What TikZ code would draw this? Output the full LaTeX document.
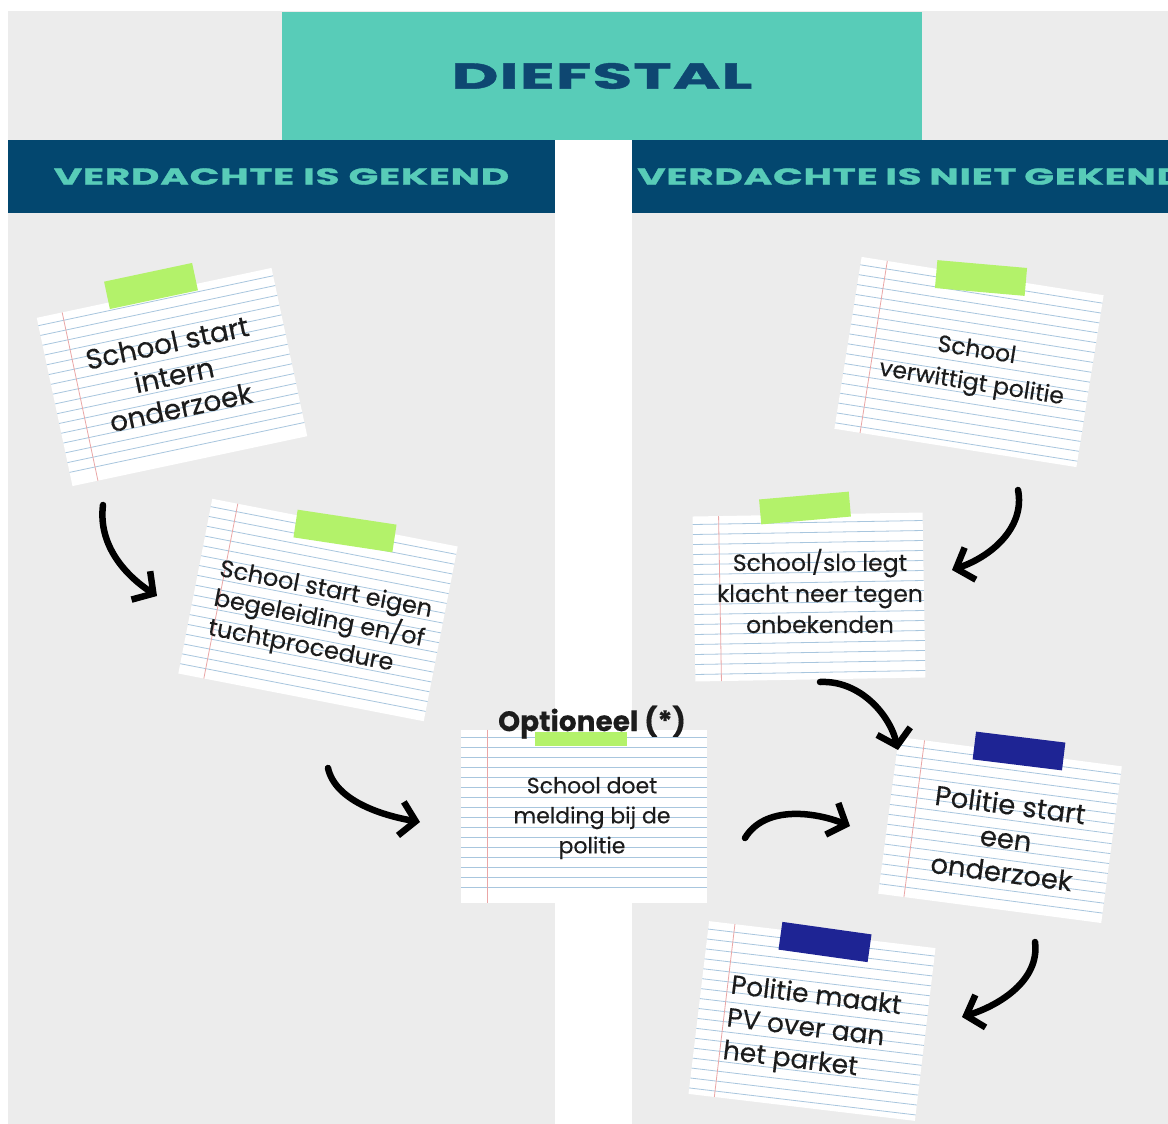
\documentclass[tikz,border=0pt]{standalone}
\usepackage{fontspec}
\setmainfont{Poppins}[FakeBold=0.3]
\newfontfamily\titlefont{Poppins}[FakeStretch=1.8, LetterSpace=3,
    BoldFeatures={FakeBold=1.2}]
\newfontfamily\headfont{Poppins}[FakeStretch=1.7, LetterSpace=3,
    BoldFeatures={FakeBold=1.2}]
\usetikzlibrary{arrows.meta}

\definecolor{panelgrey}{HTML}{ECECEC}
\definecolor{titleteal}{HTML}{58CCB8}
\definecolor{headblue}{HTML}{03476F}
\definecolor{titleblue}{HTML}{0E4771}
\definecolor{tapelime}{HTML}{B3F26A}
\definecolor{tapeblue}{HTML}{1E2494}
\definecolor{ruleblue}{HTML}{A8C6DE}
\definecolor{marginred}{HTML}{EAA6A6}
\definecolor{ink}{HTML}{1C1C1C}

\begin{document}
\begin{tikzpicture}[x=1pt, y=-1pt]
    \tikzset{
        titlebox/.style={fill=titleteal, text=titleblue,
            minimum width=640pt, minimum height=128pt,
            font=\titlefont\bfseries\fontsize{36}{38}\selectfont},
        header/.style={fill=headblue, text=titleteal, minimum height=73pt,
            inner xsep=0pt, font=\headfont\bfseries\fontsize{23}{25}\selectfont},
        paper/.style={fill=white, draw=none, transform shape},
        rule/.style={draw=ruleblue, line width=0.8pt},
        margin/.style={draw=marginred, line width=0.8pt},
        tape/.style={minimum width=90pt, minimum height=28pt, inner sep=0pt},
        notetext/.style={text=ink, align=center, inner sep=0pt},
        brush/.style={draw=black, line width=6.5pt, line cap=round,
            -{Straight Barb[length=15pt, width=34pt]}}
    }
    \useasboundingbox (0,0) rectangle (1168,1124);
    \clip (0,0) rectangle (1168,1124);
    % panels
    \fill[panelgrey] (8,11) rectangle (1168,140);
    \fill[panelgrey] (8,213) rectangle (555,1124);
    \fill[panelgrey] (632,213) rectangle (1168,1124);
    % title and headers
    \node[titlebox] (title) at (602,76) {DIEFSTAL};
    \node[header, minimum width=547pt] (hleft) at (281.5,176.5)
        {VERDACHTE IS GEKEND};
    \node[header, anchor=west, text width=700pt, align=left, inner xsep=5pt]
        (hright) at (632,176.5) {VERDACHTE IS NIET GEKEND};
    % lined notes
    \foreach \nm/\cx/\cy/\ang/\w/\h in {
        p1/172/377/12/240/172, p2/318/610/-11/250/178,
        p3/584/816/0/246/173, p4/969/362/-9/245/174,
        p5/809/597/1/230/165, p6/1000/830/-7.5/225/158,
        p7/812/1021/-6.8/228/174} {
        \begin{scope}[shift={(\cx,\cy)}, rotate=\ang]
            \node[paper, minimum width=\w pt, minimum height=\h pt]
                (\nm) at (0,0) {};
            \pgfmathtruncatemacro\nl{(\h-14)/10}
            \foreach \k in {0,...,\nl}
                \draw[rule] (-\w/2,-\h/2+8+\k*10) -- (\w/2,-\h/2+8+\k*10);
            \draw[margin] (-\w/2+26,-\h/2) -- (-\w/2+26,\h/2);
        \end{scope}
    }
    % tapes
    \node[tape, fill=tapelime, rotate=12] (tp1) at (151,286) {};
    \node[tape, fill=tapelime, rotate=-8.6, minimum width=100pt] (tp2) at (345,531) {};
    \node[tape, fill=tapelime, minimum width=92pt, minimum height=14pt] (tp3) at (581,739) {};
    \node[tape, fill=tapelime, rotate=-5] (tp4) at (981,278) {};
    \node[tape, fill=tapelime, rotate=5, minimum height=25pt] (tp5) at (805,508) {};
    \node[tape, fill=tapeblue, rotate=-7] (tp6) at (1019,751) {};
    \node[tape, fill=tapeblue, rotate=-8] (tp7) at (825,942) {};
    % texts
    \node[notetext, rotate=12, font=\fontsize{28}{33}\selectfont]
        (t1) at (174,375) {School start\\intern\\onderzoek};
    \node[notetext, rotate=-11, align=left, font=\fontsize{24}{30}\selectfont]
        (t2) at (320,620) {School start eigen\\begeleiding en/of\\tuchtprocedure};
    \node[text=ink, font=\bfseries\fontsize{28}{30}\selectfont, inner sep=0pt]
        (opt) at (592,722) {Optioneel (*)};
    \node[notetext, font=\fontsize{22}{30}\selectfont]
        (t3) at (592,818) {School doet\\melding bij de\\politie};
    \node[notetext, rotate=-9, font=\fontsize{23.5}{33}\selectfont]
        (t4) at (974,368) {School\\verwittigt politie};
    \node[notetext, font=\fontsize{23.5}{31}\selectfont]
        (t5) at (820,591) {School/slo legt\\klacht neer tegen\\onbekenden};
    \node[notetext, rotate=-7.5, font=\fontsize{27.5}{34}\selectfont]
        (t6) at (1006,838) {Politie start\\een\\onderzoek};
    \node[notetext, rotate=-7, align=left, font=\fontsize{26.5}{33}\selectfont]
        (t7) at (812,1030) {Politie maakt\\PV over aan\\het parket};
    % brush arrows
    \coordinate (a1s) at (103,505);  \coordinate (a1e) at (157,596);
    \coordinate (a2s) at (328,768);  \coordinate (a2e) at (420,822);
    \coordinate (a3s) at (745,838);  \coordinate (a3e) at (850,826);
    \coordinate (a4s) at (1018,490); \coordinate (a4e) at (952,570);
    \coordinate (a5s) at (820,682);  \coordinate (a5e) at (898,750);
    \coordinate (a6s) at (1035,942); \coordinate (a6e) at (962,1017);
    \draw[brush] (a1s) .. controls (98,545) and (125,575) .. (a1e);
    \draw[brush] (a2s) .. controls (335,800) and (380,815) .. (a2e);
    \draw[brush] (a3s) .. controls (765,805) and (815,812) .. (a3e);
    \draw[brush] (a4s) .. controls (1025,525) and (995,555) .. (a4e);
    \draw[brush] (a5s) .. controls (860,680) and (890,715) .. (a5e);
    \draw[brush] (a6s) .. controls (1040,980) and (1000,1005) .. (a6e);
\end{tikzpicture}
\end{document}
